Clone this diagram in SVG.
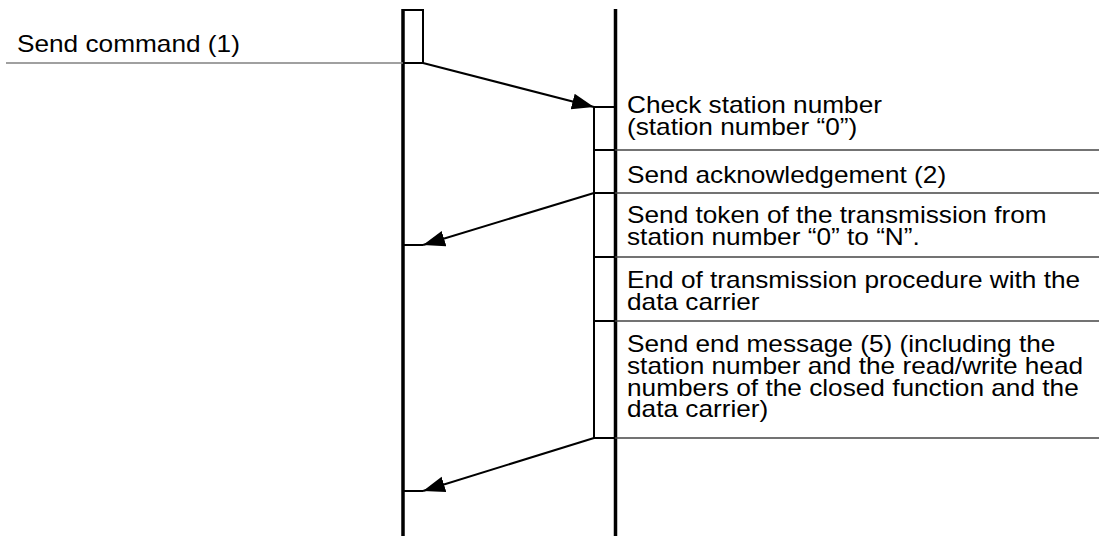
<svg xmlns="http://www.w3.org/2000/svg" width="1099" height="536" viewBox="0 0 1099 536">
<style>
.life{stroke:#000;stroke-width:3.5;fill:none}
.box{stroke:#000;stroke-width:2;fill:none}
.sep{stroke:#444;stroke-width:1.4;fill:none}
.msg{stroke:#000;stroke-width:2;fill:none}
.t{font-family:"Liberation Sans",Arial,sans-serif;font-size:23px;fill:#000}
</style>
<defs>
<marker id="ah" markerUnits="userSpaceOnUse" markerWidth="24" markerHeight="18" refX="22" refY="8" orient="auto">
<path d="M0,0 L22,8 L0,16 z" fill="#000"/>
</marker>
</defs>
<rect width="1099" height="536" fill="#fff"/>
<g id="lifeline-left">
<line class="life" x1="403" y1="9" x2="403" y2="536"/>
<rect class="box" x="403" y="10" width="20" height="53"/>
</g>
<g id="lifeline-right">
<line class="life" x1="615.5" y1="9" x2="615.5" y2="536"/>
<rect class="box" x="594" y="107" width="21" height="331"/>
<line class="box" x1="594" y1="150" x2="615" y2="150"/>
<line class="box" x1="594" y1="193" x2="615" y2="193"/>
<line class="box" x1="594" y1="257" x2="615" y2="257"/>
<line class="box" x1="594" y1="321" x2="615" y2="321"/>
<line class="sep" x1="615" y1="150" x2="1099" y2="150"/>
<line class="sep" x1="615" y1="193" x2="1099" y2="193"/>
<line class="sep" x1="615" y1="257" x2="1099" y2="257"/>
<line class="sep" x1="615" y1="321" x2="1099" y2="321"/>
<line class="sep" x1="615" y1="438" x2="1099" y2="438"/>
</g>
<g id="send-command">
<line x1="6" y1="63" x2="403" y2="63" stroke="#808080" stroke-width="1.6"/>
<text class="t" transform="scale(1.14 1)" x="14.9" y="52">Send command (1)</text>
</g>
<g id="steps" transform="scale(1.14 1)">
<text class="t" x="550" y="113">Check station number</text>
<text class="t" x="550" y="135">(station number “0”)</text>
<text class="t" x="550" y="183">Send acknowledgement (2)</text>
<text class="t" x="550" y="223">Send token of the transmission from</text>
<text class="t" x="550" y="245">station number “0” to “N”.</text>
<text class="t" x="550" y="288">End of transmission procedure with the</text>
<text class="t" x="550" y="310">data carrier</text>
<text class="t" x="550" y="352">Send end message (5) (including the</text>
<text class="t" x="550" y="374">station number and the read/write head</text>
<text class="t" x="550" y="396">numbers of the closed function and the</text>
<text class="t" x="550" y="417">data carrier)</text>
</g>
<g id="connectors">
<line class="msg" x1="423" y1="63" x2="594" y2="107" marker-end="url(#ah)"/>
<line class="msg" x1="594" y1="193" x2="423" y2="245" marker-end="url(#ah)"/>
<line class="msg" x1="403" y1="245" x2="423" y2="245"/>
<line class="msg" x1="594" y1="438" x2="423" y2="491" marker-end="url(#ah)"/>
<line class="msg" x1="403" y1="491" x2="423" y2="491"/>
</g>
</svg>
